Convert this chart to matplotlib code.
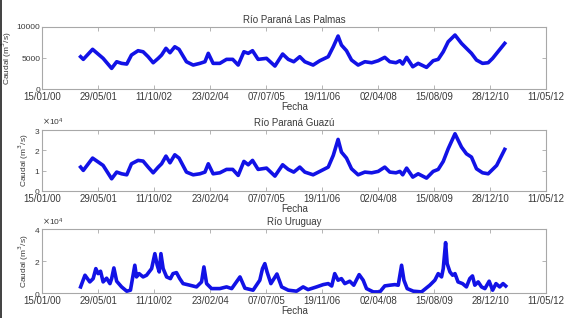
import pandas as pd
import matplotlib
matplotlib.use("Agg")
from matplotlib import pyplot as plt
from matplotlib import dates as mdates
from matplotlib.ticker import ScalarFormatter
from matplotlib.lines import Line2D

# fechas comunes de las dos series del Paraná
fechas_parana = ["2000-12-22", "2001-01-15", "2001-04-08", "2001-07-11", "2001-09-25",
                 "2001-11-09", "2001-12-23", "2002-02-07", "2002-03-21", "2002-05-19",
                 "2002-07-03", "2002-08-17", "2002-10-01", "2002-11-15", "2002-12-15",
                 "2003-01-23", "2003-02-28", "2003-04-12", "2003-05-20", "2003-07-25",
                 "2003-09-23", "2003-11-22", "2004-01-06", "2004-02-05", "2004-03-19",
                 "2004-05-18", "2004-07-17", "2004-09-10", "2004-10-29", "2004-12-19",
                 "2005-01-27", "2005-03-06", "2005-04-25", "2005-07-09", "2005-09-22",
                 "2005-11-30", "2006-01-19", "2006-03-09", "2006-05-02", "2006-06-16",
                 "2006-08-29", "2006-10-28", "2007-01-11", "2007-02-25", "2007-04-09",
                 "2007-05-09", "2007-06-23", "2007-08-07", "2007-10-05", "2007-12-04",
                 "2008-02-03", "2008-04-01", "2008-05-30", "2008-07-14", "2008-09-07",
                 "2008-10-12", "2008-11-06", "2008-12-11", "2009-02-04", "2009-03-24",
                 "2009-06-07", "2009-08-05", "2009-09-19", "2009-11-03", "2009-12-17",
                 "2010-02-16", "2010-04-15", "2010-05-29", "2010-07-13", "2010-08-27",
                 "2010-10-20", "2010-12-09", "2011-01-18", "2011-02-23", "2011-05-06"]

q_las_palmas = [5210, 4790, 6390, 4950, 3350, 4410, 4150, 4040, 5480, 6170,
                6000, 5210, 4250, 4950, 5480, 6550, 5850, 6800, 6390, 4410,
                3880, 4150, 4410, 5750, 4150, 4150, 4790, 4790, 3880, 6000,
                5750, 6170, 4790, 4950, 3720, 5640, 4790, 4410, 5210, 4410,
                3880, 4570, 5210, 6800, 8510, 7070, 6170, 4680, 3880, 4410,
                4250, 4570, 5110, 4410, 4250, 4570, 4040, 5110, 3610, 4150,
                3510, 4570, 4790, 6000, 7600, 8670, 7340, 6550, 5750, 4680,
                4150, 4250, 4950, 5750, 7340]

q_guazu = [11700, 10080, 16150, 12540, 5930, 9240, 8400, 7900, 13340, 15020,
           14670, 11700, 8890, 11700, 13340, 17140, 13830, 17780, 16150, 9240,
           7900, 8400, 9240, 13340, 8400, 8890, 10570, 10570, 7600, 14520,
           12850, 15020, 10570, 11210, 7260, 12850, 10570, 9240, 11700, 9240,
           7900, 9580, 11700, 17490, 25390, 19120, 16150, 10870, 7900, 9240,
           8890, 9580, 11700, 9240, 8890, 9580, 7900, 11210, 6770, 8400,
           6270, 9580, 10570, 14520, 20750, 28160, 21590, 18280, 16650, 10870,
           8890, 8400, 10570, 12540, 20450]

fechas_uruguay = ["2000-12-22", "2001-01-30", "2001-03-14", "2001-04-13", "2001-05-07",
                  "2001-05-27", "2001-06-18", "2001-07-11", "2001-08-11", "2001-09-10",
                  "2001-09-25", "2001-10-15", "2001-11-09", "2001-12-23", "2002-02-07",
                  "2002-03-12", "2002-04-20", "2002-05-05", "2002-05-28", "2002-07-03",
                  "2002-08-03", "2002-09-17", "2002-10-16", "2002-11-06", "2002-11-24",
                  "2002-12-09", "2002-12-29", "2003-01-29", "2003-03-04", "2003-03-27",
                  "2003-04-27", "2003-05-26", "2003-06-25", "2003-08-24", "2003-10-23",
                  "2003-12-07", "2003-12-28", "2004-01-21", "2004-03-05", "2004-05-18",
                  "2004-07-17", "2004-09-01", "2004-11-14", "2004-12-28", "2005-03-11",
                  "2005-05-10", "2005-06-03", "2005-06-24", "2005-07-14", "2005-08-17",
                  "2005-10-10", "2005-11-21", "2006-01-19", "2006-04-03", "2006-06-01",
                  "2006-07-15", "2006-09-29", "2006-11-27", "2007-01-11", "2007-02-11",
                  "2007-03-10", "2007-04-09", "2007-05-09", "2007-06-08", "2007-07-22",
                  "2007-08-27", "2007-10-14", "2007-11-19", "2007-12-19", "2008-02-17",
                  "2008-04-16", "2008-05-30", "2008-07-14", "2008-08-28", "2008-09-27",
                  "2008-10-27", "2008-11-17", "2008-12-16", "2009-02-09", "2009-04-23",
                  "2009-07-06", "2009-08-20", "2009-09-19", "2009-10-19", "2009-11-03",
                  "2009-11-24", "2009-12-08", "2010-01-02", "2010-01-26", "2010-02-16",
                  "2010-03-15", "2010-04-24", "2010-05-29", "2010-06-28", "2010-07-22",
                  "2010-08-12", "2010-09-11", "2010-10-11", "2010-11-10", "2010-12-18",
                  "2011-01-18", "2011-02-17", "2011-03-22", "2011-04-21", "2011-05-15"]

q_uruguay = [3940, 11250, 7060, 9130, 15380, 12250, 13750, 7060, 9380, 6000,
             9130, 15810, 7500, 3940, 1250, 1880, 17500, 10190, 12250, 10190,
             11250, 15380, 24750, 17500, 13310, 24750, 15380, 10190, 9130, 12250,
             12880, 9130, 6000, 5000, 3940, 7060, 16440, 6000, 2880, 2880,
             3940, 2880, 10190, 3130, 1880, 8130, 15380, 18500, 13310, 6000,
             12000, 3940, 1880, 1250, 3940, 2250, 3940, 5380, 6000, 4500,
             12250, 8130, 9130, 6000, 7500, 5000, 11630, 8130, 2880, 810,
             810, 4560, 5000, 5380, 5000, 17500, 8130, 2880, 1250, 810,
             5000, 8130, 12250, 10190, 15380, 31630, 18500, 13310, 11250, 12250,
             7060, 6000, 3940, 9130, 10820, 5000, 7060, 3940, 2880, 7500,
             1880, 6000, 3940, 6000, 4500]

titulos = ["Río Paraná Las Palmas", "Río Paraná Guazú", "Río Uruguay"]
y_max = [10000, 30000, 40000]
y_ticks = [[0, 5000, 10000], [0, 10000, 20000, 30000], [0, 20000, 40000]]

plt.rcParams["font.family"] = ["Liberation Sans", "DejaVu Sans"]
plt.rcParams["font.size"] = 7

fig = plt.figure(figsize=(5.71, 3.18), dpi=100)
fig.add_artist(Line2D([0.002, 0.002], [0, 1], color="#202020", lw=1.2))

series = [(fechas_parana, q_las_palmas), (fechas_parana, q_guazu), (fechas_uruguay, q_uruguay)]
bottoms = [0.719, 0.400, 0.078]
heights = [0.197, 0.191, 0.201]

x0 = pd.Timestamp("2000-01-15")
x_ticks = [x0 + pd.Timedelta(days=500 * i) for i in range(10)]

gris = "#a8a8a8"
texto = "#3a3a3a"

for i in range(3):
    ax = fig.add_axes([0.0741, bottoms[i], 0.8826, heights[i]])
    f, q = series[i]
    ax.plot(pd.to_datetime(f), q, color="#1212e6", lw=2.6, solid_joinstyle="round")
    ax.set_xlim(x_ticks[0], x_ticks[-1])
    ax.set_ylim(0, y_max[i])
    ax.set_xticks(x_ticks)
    ax.xaxis.set_major_formatter(mdates.DateFormatter("%d/%m/%y"))
    ax.set_yticks(y_ticks[i])
    if i > 0:
        fmt = ScalarFormatter(useMathText=True)
        fmt.set_powerlimits((0, 0))
        ax.yaxis.set_major_formatter(fmt)
        ax.yaxis.get_offset_text().set_fontsize(6)
        ax.yaxis.get_offset_text().set_color(texto)
    for s in ax.spines.values():
        s.set_color(gris)
        s.set_linewidth(0.8)
    ax.tick_params(direction="in", length=3, width=0.6, color=gris, labelcolor=texto,
                   top=True, right=True, pad=2)
    ax.tick_params(axis="y", labelsize=6, pad=1.5)
    ax.set_title(titulos[i], fontsize=7, color=texto, pad=3)
    ax.set_xlabel("Fecha", color=texto, labelpad=0)
    ax.set_ylabel("Caudal (m$^3$/s)", color=texto, fontsize=6, labelpad=2)

fig.savefig("out.png", dpi=100)
